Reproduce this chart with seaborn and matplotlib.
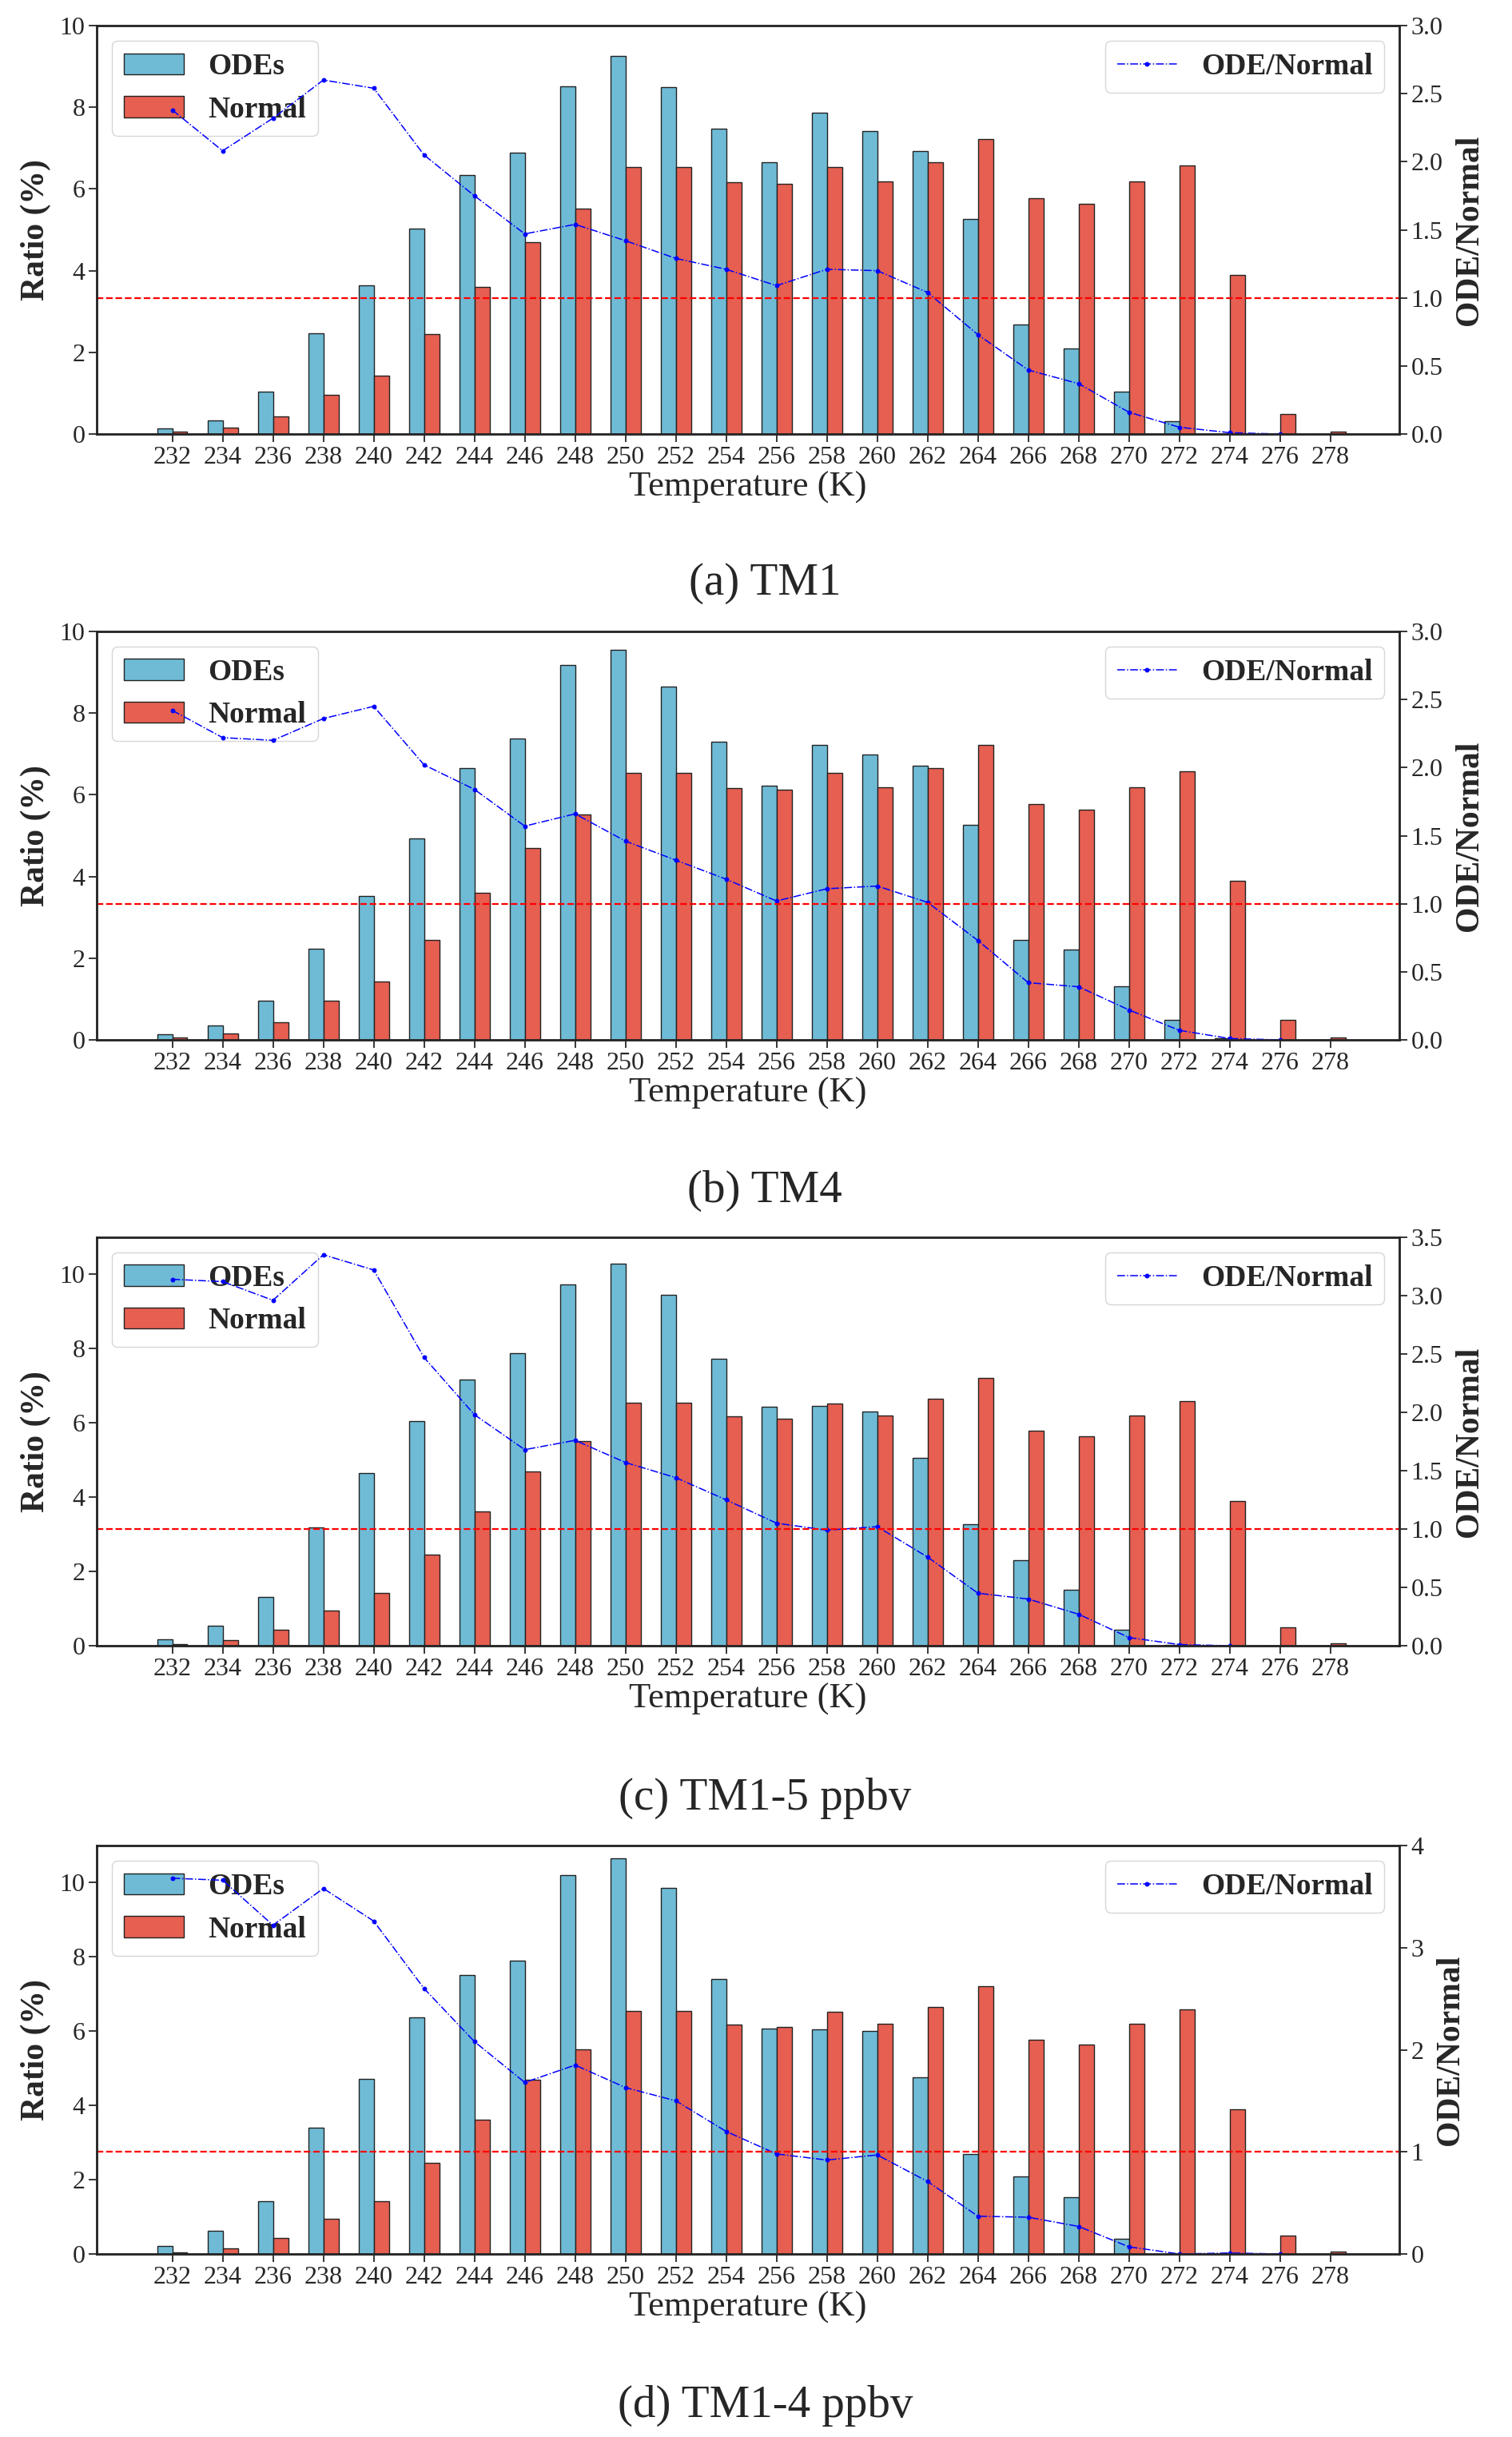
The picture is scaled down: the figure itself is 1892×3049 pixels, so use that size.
import numpy as np
import pandas as pd
import matplotlib
matplotlib.use("Agg")
import matplotlib.pyplot as plt
import seaborn as sns

# ---------------- data ----------------
temps = [232, 234, 236, 238, 240, 242, 244, 246, 248, 250, 252, 254,
         256, 258, 260, 262, 264, 266, 268, 270, 272, 274, 276, 278]

normal = [0.05, 0.16, 0.43, 0.95, 1.43, 2.45, 3.61, 4.70, 5.52, 6.54, 6.54, 6.17,
          6.12, 6.53, 6.19, 6.65, 7.22, 5.78, 5.64, 6.19, 6.58, 3.90, 0.49, 0.06]

ode_tm1 = [0.14, 0.34, 1.03, 2.46, 3.65, 5.03, 6.35, 6.88, 8.52, 9.25, 8.49, 7.47,
           6.66, 7.87, 7.42, 6.93, 5.27, 2.69, 2.10, 1.04, 0.31, 0.01, 0.0, 0.0]
ode_tm4 = [0.13, 0.36, 0.96, 2.24, 3.52, 4.94, 6.66, 7.37, 9.18, 9.55, 8.64, 7.29,
           6.22, 7.23, 6.99, 6.72, 5.26, 2.45, 2.22, 1.32, 0.48, 0.03, 0.0, 0.0]
ode_tm1_5 = [0.18, 0.53, 1.31, 3.19, 4.65, 6.04, 7.16, 7.88, 9.73, 10.29, 9.46, 7.72,
             6.43, 6.45, 6.30, 5.06, 3.27, 2.30, 1.51, 0.42, 0.03, 0.0, 0.0, 0.0]
ode_tm1_4 = [0.22, 0.62, 1.42, 3.40, 4.71, 6.38, 7.51, 7.91, 10.21, 10.66, 9.85, 7.41,
             6.08, 6.04, 6.00, 4.75, 2.70, 2.08, 1.53, 0.41, 0.0, 0.0, 0.0, 0.0]

ratio_tm1 = [2.38, 2.08, 2.32, 2.60, 2.54, 2.05, 1.75, 1.47, 1.54, 1.42, 1.29, 1.21,
             1.09, 1.21, 1.20, 1.04, 0.73, 0.47, 0.37, 0.16, 0.05, 0.01, 0.0]
ratio_tm4 = [2.42, 2.22, 2.20, 2.36, 2.45, 2.02, 1.84, 1.57, 1.66, 1.46, 1.32, 1.18,
             1.02, 1.11, 1.13, 1.01, 0.73, 0.42, 0.39, 0.22, 0.07, 0.01, 0.0]
ratio_tm1_5 = [3.14, 3.12, 2.96, 3.35, 3.22, 2.47, 1.98, 1.68, 1.76, 1.57, 1.44, 1.25,
               1.05, 0.99, 1.02, 0.76, 0.45, 0.40, 0.27, 0.07, 0.01, 0.0]
ratio_tm1_4 = [3.68, 3.66, 3.22, 3.58, 3.26, 2.60, 2.08, 1.68, 1.85, 1.63, 1.50, 1.20,
               0.98, 0.92, 0.97, 0.71, 0.37, 0.36, 0.27, 0.07, 0.0, 0.01, 0.0]

captions = ["(a) TM1", "(b) TM4", "(c) TM1-5 ppbv", "(d) TM1-4 ppbv"]
series_labels = ["ODEs", "Normal"]
ratio_label = "ODE/Normal"
ref_level = 1.0

# ---------------- style ----------------
sns.set_style("ticks")
plt.rcParams["font.family"] = ["Liberation Serif", "DejaVu Serif"]
plt.rcParams["axes.linewidth"] = 1.8

c_ode = "#6FBBD6"
c_norm = "#E65F51"

fig = plt.figure(figsize=(18.92, 30.49), dpi=100)

panels = [
    dict(ode=ode_tm1, ratio=ratio_tm1, ylim=(0, 10), rlim=(0, 3.0), rticks=np.arange(0, 3.01, 0.5), rfmt="{:.1f}"),
    dict(ode=ode_tm4, ratio=ratio_tm4, ylim=(0, 10), rlim=(0, 3.0), rticks=np.arange(0, 3.01, 0.5), rfmt="{:.1f}"),
    dict(ode=ode_tm1_5, ratio=ratio_tm1_5, ylim=(0, 11), rlim=(0, 3.5), rticks=np.arange(0, 3.51, 0.5), rfmt="{:.1f}"),
    dict(ode=ode_tm1_4, ratio=ratio_tm1_4, ylim=(0, 11), rlim=(0, 4.0), rticks=np.arange(0, 4.01, 1.0), rfmt="{:.0f}"),
]

ax_bottoms = [0.8219, 0.5733, 0.3247, 0.0751]
cap_y = [0.7606, 0.5113, 0.2621, 0.0128]
left, width, height = 0.064, 0.8615, 0.1676

tick_labels = [str(t) for t in temps]

for i, p in enumerate(panels):
    ax = fig.add_axes([left, ax_bottoms[i], width, height])
    df = pd.DataFrame({
        "T": tick_labels * 2,
        "val": list(p["ode"]) + list(normal),
        "kind": [series_labels[0]] * len(temps) + [series_labels[1]] * len(temps),
    })
    sns.barplot(data=df, x="T", y="val", hue="kind", order=tick_labels,
                hue_order=series_labels, palette=[c_ode, c_norm], width=0.6,
                dodge=True, edgecolor="#222222", linewidth=1.0, saturation=1,
                errorbar=None, ax=ax)
    ax.set_ylim(*p["ylim"])
    ax.set_yticks(np.arange(0, 10.01, 2))
    ax.set_yticklabels([f"{v:.0f}" for v in np.arange(0, 10.01, 2)])
    ax.set_xlabel("Temperature (K)", fontsize=32, labelpad=2)
    ax.set_ylabel("Ratio (%)", fontsize=30, fontweight="bold", labelpad=8)
    ax.tick_params(axis="both", labelsize=23, length=7, width=1.3, direction="out")
    leg = ax.legend(loc="upper left", prop={"family": "Liberation Serif", "weight": "bold", "size": 27},
                    borderaxespad=0.5)

    ax2 = ax.twinx()
    xr = np.arange(len(p["ratio"]))
    sns.lineplot(x=xr, y=p["ratio"], ax=ax2, color="blue", linestyle="-.",
                 linewidth=1.1, marker=".", markersize=7, markeredgecolor="blue",
                 markerfacecolor="blue", label=ratio_label)
    ax2.axhline(ref_level, color="red", linestyle="--", linewidth=1.6)
    ax2.set_ylim(*p["rlim"])
    ax2.set_yticks(p["rticks"])
    ax2.set_yticklabels([p["rfmt"].format(v) for v in p["rticks"]])
    ax2.set_ylabel(ratio_label, fontsize=30, fontweight="bold", labelpad=10)
    ax2.set_xlabel("")
    ax2.tick_params(axis="y", labelsize=23, length=7, width=1.3, direction="out")
    ax2.legend(loc="upper right", prop={"family": "Liberation Serif", "weight": "bold", "size": 27},
               borderaxespad=0.5)
    for sp in ax2.spines.values():
        sp.set_linewidth(1.8)
    ax.set_xlim(-1.5, 24.37)
    ax2.set_xlim(-1.5, 24.37)

    fig.text(0.506, cap_y[i], captions[i], fontsize=41, ha="center", va="center")

fig.savefig("out.png", dpi=100)
